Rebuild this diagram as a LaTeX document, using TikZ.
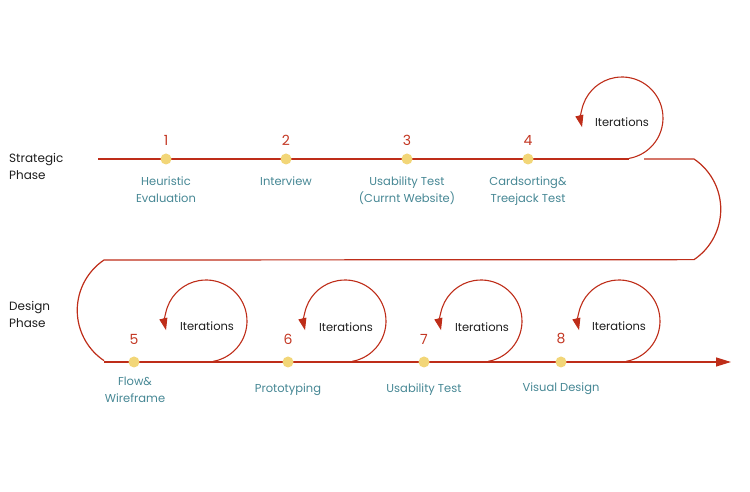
\documentclass[tikz,border=0pt]{standalone}
\usepackage{fontspec}
\setmainfont{Poppins}
\usetikzlibrary{arrows.meta}
\definecolor{linered}{RGB}{190,45,25}
\definecolor{numred}{RGB}{195,55,35}
\definecolor{dotyel}{RGB}{242,214,120}
\definecolor{teal}{RGB}{70,135,148}
\definecolor{phase}{RGB}{30,30,30}
\tikzset{
  x=1pt,y=1pt,
  mainline/.style={draw=linered,line width=1.2pt},
  loopline/.style={draw=linered,line width=1.1pt,-{Triangle[length=12pt,width=8pt]}},
  dot/.style={circle,fill=dotyel,inner sep=0pt,minimum size=11pt},
  num/.style={text=numred,font=\fontsize{14}{15}\selectfont,inner sep=0pt},
  lbl/.style={text=teal,font=\fontsize{11.5}{17}\selectfont,align=center,inner sep=0pt,anchor=north},
  phaselbl/.style={text=phase,font=\fontsize{12}{17}\selectfont,align=left,inner sep=0pt,anchor=north west},
  iter/.style={text=phase,font=\fontsize{11.5}{12}\selectfont,inner sep=0pt},
}
\begin{document}
\begin{tikzpicture}
\useasboundingbox (0,0) rectangle (750,492);
% path coordinates
\coordinate (s) at (98,333);
\coordinate (t1) at (629,333);
\coordinate (t2) at (644,333);
\coordinate (t3) at (694,333);
\coordinate (m1) at (694,232);
\coordinate (m2) at (104,232);
\coordinate (b1) at (104,130);
\coordinate (e) at (731,130);
% main line
\draw[mainline] (s) -- (t1);
\draw[mainline] (t2) -- (t3) arc[start angle=56,end angle=-56,radius=60.7] -- (m2)
  arc[start angle=124,end angle=236,radius=60.7];
\draw[mainline,-{Triangle[length=15pt,width=9pt]}] (b1) -- (e);
% loops
\coordinate (c0) at (622,374);
\coordinate (c5) at (206,171);
\coordinate (c6) at (345,171);
\coordinate (c7) at (481,171);
\coordinate (c8) at (619,171);
\foreach \c in {c0,c5,c6,c7,c8}{
  \draw[loopline] ([shift={(-80:41)}]\c) arc[start angle=-80,end angle=193,radius=41];
}
\node[iter] (i0) at (622,370) {Iterations};
\node[iter] (i5) at (207,166) {Iterations};
\node[iter] (i6) at (346,165) {Iterations};
\node[iter] (i7) at (482,165) {Iterations};
\node[iter] (i8) at (619,166) {Iterations};
% dots
\node[dot] (d1) at (166,333) {};
\node[dot] (d2) at (286,333) {};
\node[dot] (d3) at (407,333) {};
\node[dot] (d4) at (528,333) {};
\node[dot] (d5) at (134,130) {};
\node[dot] (d6) at (288,130) {};
\node[dot] (d7) at (424,130) {};
\node[dot] (d8) at (561,130) {};
% numbers
\node[num] (n1) at (166,352) {1};
\node[num] (n2) at (286,352) {2};
\node[num] (n3) at (407,352) {3};
\node[num] (n4) at (528,352) {4};
\node[num] (n5) at (134,153) {5};
\node[num] (n6) at (288,153) {6};
\node[num] (n7) at (424,153) {7};
\node[num] (n8) at (561,153) {8};
% labels
\node[lbl] (l1) at (166,315) {Heuristic\\Evaluation};
\node[lbl] (l2) at (286,315) {Interview};
\node[lbl] (l3) at (407,315) {Usability Test\\(Currnt Website)};
\node[lbl] (l4) at (528,315) {Cardsorting\&\\Treejack Test};
\node[lbl] (l5) at (135,115) {Flow\&\\Wireframe};
\node[lbl] (l6) at (288,108) {Prototyping};
\node[lbl] (l7) at (424,108) {Usability Test};
\node[lbl] (l8) at (561,109) {Visual Design};
% phases
\node[phaselbl] (p1) at (9,339) {Strategic\\Phase};
\node[phaselbl] (p2) at (9,191) {Design\\Phase};
\end{tikzpicture}
\end{document}
